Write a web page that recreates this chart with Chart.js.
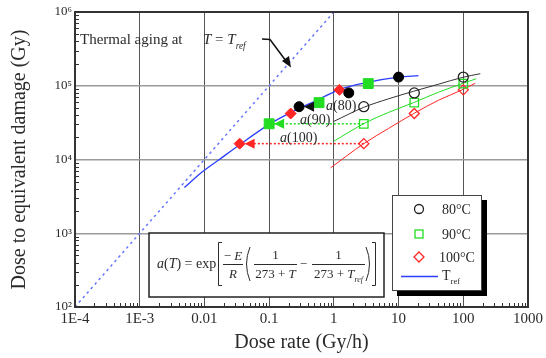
<!DOCTYPE html>
<html lang="en">
<head>
<meta charset="UTF-8">
<title>Dose to equivalent damage vs dose rate</title>
<script src="https://cdn.jsdelivr.net/npm/chart.js"></script>
<style>
  body { margin: 0; background: #fff; }
  canvas { display: block; }
</style>
</head>
<body>
<canvas id="doseChart" width="546" height="358"></canvas>
<script>
// axis decades
const rateTicks = [1e-4, 1e-3, 0.01, 0.1, 1, 10, 100, 1000];
const rateTickLabels = ['1E-4', '1E-3', '0.01', '0.1', '1', '10', '100', '1000'];
const doseTicks = [1e2, 1e3, 1e4, 1e5, 1e6];
const doseTickLabels = ['10²', '10³', '10⁴', '10⁵', '10⁶'];

// measured dose to equivalent damage (Gy) at each test dose rate (Gy/h)
const testRates = [2.9, 17.5, 100];
const dose80 = [52000, 80000, 131000];
const dose90 = [30500, 59000, 107000];
const dose100 = [16400, 42000, 88000];

// same points moved to Tref (rate divided by a(T))
const shifted80 = [0.29, 1.7, 10];
const shifted90 = [0.1, 0.59, 3.4];
const shifted100 = [0.035, 0.215, 1.22];

// master curve at Tref
const trefRates = [0.0049, 0.009, 0.017, 0.0346, 0.1, 0.218, 0.588, 1.24, 3.45, 10, 20.3];
const trefDoses = [4160, 6660, 10000, 15750, 29900, 43500, 65500, 89500, 111700, 130600, 136800];

// fitted curves for each temperature
const fit80Rates = [1, 2.9, 7, 17, 41.2, 100, 183];
const fit80Doses = [32900, 51000, 66500, 84100, 104800, 130700, 145500];
const fit90Rates = [1, 2.9, 7, 17, 41.2, 100, 158];
const fit90Doses = [17700, 30600, 43500, 59000, 81600, 108200, 124400];
const fit100Rates = [0.89, 2.9, 7, 17.4, 41.2, 100, 153];
const fit100Doses = [7710, 16400, 26400, 42300, 63500, 89500, 108100];

// pure thermal aging at T = Tref
const thermalRates = [1e-4, 1];
const thermalDoses = [1e2, 1e6];

const SERIF = '"Liberation Serif", "Times New Roman", serif';
const INK = '#2b2b2b';
const GREEN = '#22dd22';
const RED = '#ff2626';
const BLUE = '#2b3dff';

const curve = (rates, doses) => rates.map((r, i) => ({ x: r, y: doses[i] }));

// draws a row of text pieces, italic and subscript where asked
function runs(ctx, parts, x, yb, size) {
  for (const [txt, style] of parts) {
    const sub = style.includes('sub');
    const fs = sub ? size * 0.62 : size;
    ctx.font = (style.includes('i') ? 'italic ' : '') + fs + 'px ' + SERIF;
    ctx.fillText(txt, x, yb + (sub ? size * 0.3 : 0));
    x += ctx.measureText(txt).width;
  }
  return x;
}
function runsWidth(ctx, parts, size) {
  let w = 0;
  for (const [txt, style] of parts) {
    const sub = style.includes('sub');
    ctx.font = (style.includes('i') ? 'italic ' : '') + (sub ? size * 0.62 : size) + 'px ' + SERIF;
    w += ctx.measureText(txt).width;
  }
  return w;
}
function centeredRuns(ctx, parts, cx, yb, size) {
  runs(ctx, parts, cx - runsWidth(ctx, parts, size) / 2, yb, size);
}

function arrowHead(ctx, px, py, color) {
  ctx.fillStyle = color;
  ctx.beginPath();
  ctx.moveTo(px + 5, py);
  ctx.lineTo(px + 15, py - 5);
  ctx.lineTo(px + 15, py + 5);
  ctx.closePath();
  ctx.fill();
}

const notes = {
  id: 'notes',
  afterDatasetsDraw(chart) {
    const { ctx, chartArea: a, scales: { x, y } } = chart;
    ctx.save();

    // minor ticks along the bottom and left axes
    ctx.strokeStyle = '#333';
    ctx.lineWidth = 1;
    ctx.beginPath();
    for (let k = -4; k < 3; k++) {
      for (let m = 2; m <= 9; m++) {
        const px = Math.round(x.getPixelForValue(m * Math.pow(10, k))) + 0.5;
        ctx.moveTo(px, a.bottom);
        ctx.lineTo(px, a.bottom - 4);
      }
    }
    for (let k = 2; k < 6; k++) {
      for (let m = 2; m <= 9; m++) {
        const py = Math.round(y.getPixelForValue(m * Math.pow(10, k))) + 0.5;
        ctx.moveTo(a.left, py);
        ctx.lineTo(a.left + 4, py);
      }
    }
    ctx.stroke();

    // frame
    ctx.strokeStyle = '#333';
    ctx.lineWidth = 2;
    ctx.strokeRect(a.left, a.top, a.right - a.left, a.bottom - a.top);

    // arrowheads of the shift lines
    arrowHead(ctx, x.getPixelForValue(shifted80[0]), y.getPixelForValue(dose80[0]), '#111');
    arrowHead(ctx, x.getPixelForValue(shifted90[0]), y.getPixelForValue(dose90[0]), GREEN);
    arrowHead(ctx, x.getPixelForValue(shifted100[0]), y.getPixelForValue(dose100[0]), RED);

    // shift factor labels
    ctx.fillStyle = INK;
    ctx.textBaseline = 'alphabetic';
    ctx.textAlign = 'left';
    runs(ctx, [['a', 'i'], ['(80)', '']], 326, 110, 14);
    runs(ctx, [['a', 'i'], ['(90)', '']], 300, 124, 14);
    runs(ctx, [['a', 'i'], ['(100)', '']], 280, 142, 14);

    // thermal aging note with its arrow
    runs(ctx, [['Thermal aging at', '']], 80, 44, 15);
    runs(ctx, [['T', 'i'], [' = ', ''], ['T', 'i'], ['ref', 'isub']], 203, 44, 15);
    ctx.strokeStyle = '#111';
    ctx.lineWidth = 1.5;
    ctx.beginPath();
    ctx.moveTo(262, 39);
    ctx.lineTo(270, 39.5);
    ctx.lineTo(286, 61);
    ctx.stroke();
    ctx.fillStyle = '#111';
    ctx.beginPath();
    ctx.moveTo(291, 67.5);
    ctx.lineTo(282, 61);
    ctx.lineTo(289, 56);
    ctx.closePath();
    ctx.fill();

    // formula box
    ctx.fillStyle = '#fff';
    ctx.fillRect(149, 233, 235, 64);
    ctx.strokeStyle = '#222';
    ctx.lineWidth = 1.5;
    ctx.strokeRect(149, 233, 235, 64);
    ctx.fillStyle = INK;
    runs(ctx, [['a', 'i'], ['(', ''], ['T', 'i'], [')', ''], [' = exp', '']], 157, 268, 14);
    ctx.strokeStyle = INK;
    ctx.lineWidth = 1;
    ctx.beginPath();
    // square brackets
    ctx.moveTo(222, 242.5); ctx.lineTo(218.5, 242.5); ctx.lineTo(218.5, 285.5); ctx.lineTo(222, 285.5);
    ctx.moveTo(372, 242.5); ctx.lineTo(375.5, 242.5); ctx.lineTo(375.5, 285.5); ctx.lineTo(372, 285.5);
    // round brackets
    ctx.moveTo(250, 247); ctx.quadraticCurveTo(243, 264, 250, 281);
    ctx.moveTo(366, 247); ctx.quadraticCurveTo(373, 264, 366, 281);
    // fraction bars
    ctx.moveTo(223, 264.5); ctx.lineTo(243, 264.5);
    ctx.moveTo(254, 264.5); ctx.lineTo(297, 264.5);
    ctx.moveTo(312, 264.5); ctx.lineTo(365, 264.5);
    ctx.stroke();
    centeredRuns(ctx, [['\u2212 ', ''], ['E', 'i']], 233, 260, 13);
    centeredRuns(ctx, [['R', 'i']], 233, 278, 13);
    centeredRuns(ctx, [['1', '']], 275.5, 259, 13);
    centeredRuns(ctx, [['273 + ', ''], ['T', 'i']], 275.5, 278, 13);
    centeredRuns(ctx, [['\u2212', '']], 303.5, 268, 13);
    centeredRuns(ctx, [['1', '']], 338.5, 259, 13);
    centeredRuns(ctx, [['273 + ', ''], ['T', 'i'], ['ref', 'isub']], 338.5, 278, 13);

    // legend with drop shadow
    ctx.fillStyle = '#000';
    ctx.fillRect(397, 200, 90, 96);
    ctx.fillStyle = '#fff';
    ctx.fillRect(392.5, 195.5, 89, 95);
    ctx.strokeStyle = '#444';
    ctx.lineWidth = 1;
    ctx.strokeRect(392.5, 195.5, 89, 95);

    ctx.lineWidth = 1.3;
    ctx.strokeStyle = '#222';
    ctx.beginPath();
    ctx.arc(419, 209, 4.5, 0, Math.PI * 2);
    ctx.stroke();
    ctx.strokeStyle = GREEN;
    ctx.strokeRect(415, 230, 8, 8);
    ctx.strokeStyle = RED;
    ctx.beginPath();
    ctx.moveTo(419, 252); ctx.lineTo(424, 257); ctx.lineTo(419, 262); ctx.lineTo(414, 257); ctx.closePath();
    ctx.stroke();
    ctx.strokeStyle = BLUE;
    ctx.lineWidth = 1.5;
    ctx.beginPath();
    ctx.moveTo(401, 276.5); ctx.lineTo(438, 276.5);
    ctx.stroke();

    ctx.fillStyle = INK;
    runs(ctx, [['80°C', '']], 442, 214, 14);
    runs(ctx, [['90°C', '']], 442, 239, 14);
    runs(ctx, [['100°C', '']], 439, 262, 14);
    runs(ctx, [['T', ''], ['ref', 'sub']], 442, 280, 14);

    ctx.restore();
  }
};

new Chart(document.getElementById('doseChart'), {
  type: 'scatter',
  data: {
    datasets: [
      { label: '80°C', data: curve(testRates, dose80), pointStyle: 'circle', pointRadius: 5,
        pointBorderColor: '#222', pointBackgroundColor: 'rgba(0,0,0,0)', pointBorderWidth: 1.3 },
      { label: '90°C', data: curve(testRates, dose90), pointStyle: 'rect', pointRadius: 6,
        pointBorderColor: GREEN, pointBackgroundColor: 'rgba(0,0,0,0)', pointBorderWidth: 1.3 },
      { label: '100°C', data: curve(testRates, dose100), pointStyle: 'rectRot', pointRadius: 5,
        pointBorderColor: RED, pointBackgroundColor: 'rgba(0,0,0,0)', pointBorderWidth: 1.3 },
      { label: '80°C at Tref', data: curve(shifted80, dose80), pointStyle: 'circle', pointRadius: 5,
        pointBorderColor: '#000', pointBackgroundColor: '#000' },
      { label: '90°C at Tref', data: curve(shifted90, dose90), pointStyle: 'rect', pointRadius: 7,
        pointBorderColor: GREEN, pointBackgroundColor: GREEN },
      { label: '100°C at Tref', data: curve(shifted100, dose100), pointStyle: 'rectRot', pointRadius: 5.5,
        pointBorderColor: RED, pointBackgroundColor: RED },
      { label: 'shift 90', data: [{ x: testRates[0], y: dose90[0] }, { x: shifted90[0], y: dose90[0] }],
        showLine: true, borderColor: GREEN, borderDash: [2, 2], borderWidth: 1.5, pointRadius: 0 },
      { label: 'shift 100', data: [{ x: testRates[0], y: dose100[0] }, { x: shifted100[0], y: dose100[0] }],
        showLine: true, borderColor: RED, borderDash: [2, 2], borderWidth: 1.5, pointRadius: 0 },
      { label: 'fit 80', data: curve(fit80Rates, fit80Doses), showLine: true, borderColor: '#333',
        borderWidth: 1, pointRadius: 0, cubicInterpolationMode: 'monotone' },
      { label: 'fit 90', data: curve(fit90Rates, fit90Doses), showLine: true, borderColor: GREEN,
        borderWidth: 1, pointRadius: 0, cubicInterpolationMode: 'monotone' },
      { label: 'fit 100', data: curve(fit100Rates, fit100Doses), showLine: true, borderColor: RED,
        borderWidth: 1, pointRadius: 0, cubicInterpolationMode: 'monotone' },
      { label: 'Tref', data: curve(trefRates, trefDoses), showLine: true, borderColor: BLUE,
        borderWidth: 1.3, pointRadius: 0, cubicInterpolationMode: 'monotone' },
      { label: 'Thermal aging', data: curve(thermalRates, thermalDoses), showLine: true, borderColor: '#6677ff',
        borderDash: [2.5, 3.5], borderWidth: 1.5, pointRadius: 0 }
    ]
  },
  options: {
    responsive: false,
    devicePixelRatio: 1,
    animation: false,
    events: [],
    layout: { padding: { top: 12, right: 16, left: 0, bottom: 0 } },
    plugins: { legend: { display: false }, tooltip: { enabled: false } },
    scales: {
      x: {
        type: 'logarithmic',
        min: 1e-4,
        max: 1000,
        afterBuildTicks: s => { s.ticks = rateTicks.map(v => ({ value: v })); },
        afterFit: s => { s.height = 51; },
        grid: { color: '#555', lineWidth: 1, drawTicks: false },
        border: { color: '#333', width: 2 },
        ticks: {
          autoSkip: false, maxRotation: 0, padding: 3, color: INK,
          font: { family: SERIF, size: 15 },
          callback: (v, i) => rateTickLabels[i]
        },
        title: { display: true, text: 'Dose rate (Gy/h)', color: INK,
          font: { family: SERIF, size: 20 }, padding: { top: 0, bottom: 3 } }
      },
      y: {
        type: 'logarithmic',
        min: 100,
        max: 1e6,
        afterBuildTicks: s => { s.ticks = doseTicks.map(v => ({ value: v })); },
        afterFit: s => { s.width = 75; },
        grid: { color: '#9a9a9a', lineWidth: 1.5, drawTicks: false },
        border: { color: '#333', width: 2 },
        ticks: {
          autoSkip: false, padding: 3, color: INK,
          font: { family: SERIF, size: 13 },
          callback: (v, i) => doseTickLabels[i]
        },
        title: { display: true, text: 'Dose to equivalent damage (Gy)', color: INK,
          font: { family: SERIF, size: 20 }, padding: { top: 8, bottom: 0 } }
      }
    }
  },
  plugins: [notes]
});
</script>
</body>
</html>
